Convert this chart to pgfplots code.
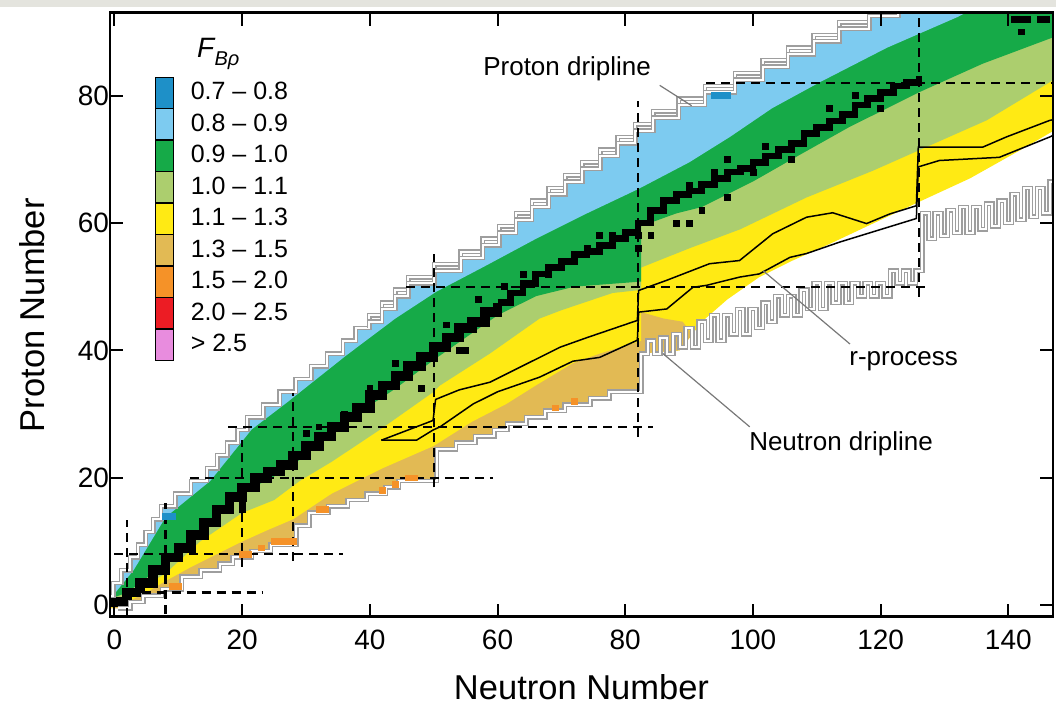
\documentclass[border=0pt]{standalone}
\usepackage{fontspec}
\setmainfont{Liberation Sans}
\usepackage{pgfplots}
\pgfplotsset{compat=1.18}
\definecolor{cDB}{RGB}{30,144,200}
\definecolor{cLB}{RGB}{125,203,240}
\definecolor{cG}{RGB}{22,170,72}
\definecolor{cLG}{RGB}{172,206,110}
\definecolor{cY}{RGB}{255,234,20}
\definecolor{cT}{RGB}{226,186,84}
\definecolor{cO}{RGB}{245,146,40}
\definecolor{cR}{RGB}{236,28,36}
\definecolor{cP}{RGB}{232,140,222}
\definecolor{cGr}{RGB}{158,158,158}
\definecolor{cLead}{RGB}{120,120,120}
\definecolor{topgray}{RGB}{228,228,222}
\begin{document}
\begin{tikzpicture}
\begin{axis}[
 name=ax, scale only axis, width=471.5pt, height=302pt,
 xmin=-0.7, xmax=147, ymin=-1.8, ymax=93,
 axis on top=true,
 xtick={0,20,...,140}, ytick={0,20,...,80},
 tick align=inside, major tick length=6.5pt,
 tick style={black, line width=1pt},
 axis line style={black, line width=1.25pt},
 tick label style={font=\fontsize{14}{14}\selectfont},
 /pgf/number format/assume math mode=true,
 xticklabel style={yshift=-3pt},
 yticklabel style={xshift=3pt},
 xlabel={Neutron Number}, ylabel={Proton Number},
 label style={font=\fontsize{17.25}{18}\selectfont},
 xlabel style={at={(axis description cs:0.5,-0.1160)}, anchor=center},
 ylabel style={at={(axis description cs:-0.0827,0.499)}, anchor=center},
 legend image code/.code={\fill[#1] (0pt,-7.675pt) rectangle (9pt,7.675pt);},
 legend cell align=left,
 legend style={at={(axis description cs:0.0477,0.8937)}, anchor=north west, draw=none, fill=none,
   inner sep=0pt, outer sep=0pt, row sep=0pt, font=\fontsize{12.5}{13}\selectfont,
   nodes={inner sep=0pt, outer sep=0pt},
   /tikz/every odd column/.append style={column sep=8.5pt}},
 cell/.style={forget plot, only marks, mark=square*, mark size=1.45pt, mark options={line width=0.3pt}},
 drip/.style={forget plot, cGr, line width=0.7pt, double=white, double distance=1pt},
]
% ---- legend entries
\addlegendimage{fill=cDB}\addlegendentry{0.7 – 0.8}
\addlegendimage{fill=cLB}\addlegendentry{0.8 – 0.9}
\addlegendimage{fill=cG}\addlegendentry{0.9 – 1.0}
\addlegendimage{fill=cLG}\addlegendentry{1.0 – 1.1}
\addlegendimage{fill=cY}\addlegendentry{1.1 – 1.3}
\addlegendimage{fill=cT}\addlegendentry{1.3 – 1.5}
\addlegendimage{fill=cO}\addlegendentry{1.5 – 2.0}
\addlegendimage{fill=cR}\addlegendentry{2.0 – 2.5}
\addlegendimage{fill=cP}\addlegendentry{> 2.5}

% ---- tan layer (N <= 82), lower edge = neutron dripline staircase
\addplot[forget plot, fill=cT, draw=none, const plot] coordinates {
(-2,-0.5) (2.5,0.5) (4.5,1.5) (7.5,2.5) (10.5,4.5) (13.5,5.5) (16.5,6.5) (18.5,7.5) (21.5,8.5) (24.5,9.5)
(28.5,12.5) (30.5,14.5) (33.5,15.5) (36.5,16.5) (39.5,17.5) (42.5,18.5) (44.5,19.5) (50.5,24.5) (53.5,25.5)
(56.5,26.5) (59.5,27.5) (61.5,28.5) (64.5,29.5) (67.5,30.5) (70.5,31.5) (74.5,32.5) (77.5,33.5) (82.5,39.5)
(82.5,100) (-2,100)} -- cycle;
% ---- yellow layer (N > 82)
\addplot[forget plot, fill=cY, draw=none] coordinates {
(82.5,39.5) (88.5,40) (90.5,42.5) (92,44.5) (96,48) (101,51.5) (106,54) (112,56.7) (119,60) (126,63.3)
(134,67) (142,71.5) (148,75) (148,100) (82.5,100)} -- cycle;
\addplot[forget plot, fill=cT, draw=none] coordinates {
(82.5,39.5) (88.5,40) (90.5,42.5) (89,44.5) (86,45) (82.5,46)} -- cycle;
% ---- yellow layer (N <= 82)
\addplot[forget plot, fill=cY, draw=none] coordinates {
(-2,-1) (3,1) (5,2) (8,3.8) (12,6) (16,8) (20,10) (24,11.8) (28,13.5) (34,17.5) (42,21.5) (50,25)
(56,28.8) (61.4,31.6) (66,34.5) (71.8,38) (76,39.5) (82.5,41.5) (82.5,100) (-2,100)} -- cycle;
% ---- light green layer
\addplot[forget plot, fill=cLG, draw=none] coordinates {
(-2,-0.5) (0,0.5) (3,2) (8,5) (13.4,10) (20,14.5) (25,16.5) (29,19.5) (34,22.5) (41.5,27.5) (50,33.5)
(51,34.5) (58.8,39.5) (66.6,45) (70,46.3) (78,49) (82.5,49.5) (82.5,53) (90,56) (98,59) (108.4,64)
(118.8,68.2) (126,71.4) (136.6,76.1) (148,83) (148,100) (-2,100)} -- cycle;
% ---- green layer
\addplot[forget plot, fill=cG, draw=none] coordinates {
(-2,0.5) (2,2) (6.6,5.5) (10.2,8.5) (13.4,11.5) (17,15) (20.2,18) (23.8,19.5) (28,22) (31.6,25)
(35.8,28) (39.5,31) (44,34) (50,38.5) (55,42) (60,45.5) (66,48.5) (72,50) (82.5,50.8) (82.5,59.5)
(88,61.5) (92,62.5) (100,66.5) (107,70.5) (115,75) (126,80.5) (136,85) (148,89.5) (148,100) (-2,100)} -- cycle;
% ---- light blue layer
\addplot[forget plot, fill=cLB, draw=none] coordinates {
(-2,0.6) (0,1.8) (3,5.5) (8,13.8) (15,19.5) (21.5,27.6) (27,31.8) (36.3,39.2) (44,45) (50.4,49.2) (58,53.2)
(66,57.5) (74,61.5) (82,65.3) (90,69.5) (96.4,73.5) (103,78) (110.5,82.1) (121,87.5) (132,92.3)
(145,99) (145,100) (-2,100)} -- cycle;
% ---- white beyond proton dripline (inner edge for Z >= 44 leaves outlined white bars)
\addplot[forget plot, fill=white, draw=none, const plot mark right] coordinates {
(-1,-0.5) (-0.2,1.5) (1.1,3.5) (2.5,5.5) (3.7,7.5) (4.9,9.5) (6.1,11.5) (7.3,13.5) (9.5,15.5) (12,17.5)
(14.5,19.5) (16.1,21.5) (17.7,23.5) (19.3,25.5) (20.8,27.5) (23.3,29.5) (25.9,31.5) (28.4,33.5) (30.8,35.5)
(33.3,37.5) (35.8,39.5) (37.8,41.5) (39.9,43.5) (41.9,44.5) (44,46.5) (46,48.5) (50.1,50.5) (54.2,52.5)
(57.7,54.5) (60.3,56.5) (62.9,58.5) (65.4,60.5) (68,62.5) (70.6,64.5) (73.3,66.5) (76.1,68.5) (78.8,70.5)
(81.6,72.5) (84.4,74.5) (88.4,76.5) (92.5,78.5) (97.2,80.5) (101.5,82.5) (105.5,84.5) (109.5,86.5)
(113.5,88.5) (118.2,90.5) (122.8,92.5) (127.5,94.5) (127.5,100) (-5,100) (-5,-0.5)} -- cycle;
% ---- orange and dark blue cells
\addplot[cell, color=cO] coordinates {
(9,3) (10,3) (20,8) (21,8) (23,9) (25,10) (26,10) (27,10) (28,10) (32,15) (33,15) (42,18) (44,19) (46,20) (47,20) (69,31) (72,32)};
\addplot[cell, color=cDB] coordinates {(94,80) (95,80) (96,80) (8,14) (9,14)};
% ---- valley of stability
\addplot[forget plot, black, line width=4.8pt, const plot] coordinates {
(-0.5,0.5) (2,2) (4,3.5) (6,5.5) (8,7.5) (10,9) (12,11) (14,13) (16,15) (18,17) (20,18.5) (22,20) (24,21)
(26,22) (28,23.5) (30,25) (32,26.5) (34,28) (36,29.5) (38,31) (40,33) (42,34.5) (44,36) (46,37.5) (48,39)
(50,40.5) (52,42) (54,43.5) (56,44.5) (58,46) (60,47.5)};
\addplot[forget plot, black, line width=3.4pt, const plot] coordinates {
(60,47.5) (62,49) (64,50.5) (66,52) (68,53) (70,54) (72,55) (74,55.5) (76,56.5) (78,57.5) (80,58.5) (82,60)
(84,62) (86,63.5) (88,64.5) (90,65) (92,66) (94,67) (96,68) (98,68.5) (100,69.5) (102,70.5) (104,71.5)
(106,72.5) (108,74) (110,75) (112,76) (114,77) (116,78.5) (118,79.5) (120,80.5) (122,81.5) (124,82) (126,83)};
\addplot[cell, color=black] coordinates {
(46,37) (48,34) (40,34) (52,44) (54,40) (55,40) (57,48) (61,50) (68,52) (70,54) (72,54) (74,56) (78,58)
(80,58) (84,58) (88,60) (90,60) (90,66) (92,66) (94,68) (96,70) (92,62) (96,64) (102,72) (106,70)
(112,78) (116,80) (120,78) (141,92) (142,92) (143,92) (145,92) (146,92) (142,90) (36,30) (32,28) (82,56) (82,58)
(20,16) (20,15) (30,27) (44,38) (64,52) (76,58) (86,62) (100,68)};
% ---- proton dripline (gray): outer edge and inner edge of the outlined bars
\addplot[drip, const plot mark right] coordinates {
(-1,-0.5) (-0.2,1.5) (1.1,3.5) (2.5,5.5) (3.7,7.5) (4.9,9.5) (6.1,11.5) (7.3,13.5) (9.5,15.5) (12,17.5)
(14.5,19.5) (16.1,21.5) (17.7,23.5) (19.3,25.5) (20.8,27.5) (23.3,29.5) (25.9,31.5) (28.4,33.5) (30.8,35.5)
(33.3,37.5) (35.8,39.5) (37.8,41.5) (39.9,43.5) (41.9,45.5) (44,47.5) (46,49.5) (50.1,51.5) (54.2,53.5)
(57.7,55.5) (60.3,57.5) (62.9,59.5) (65.4,61.5) (68,63.5) (70.6,65.5) (73.3,67.5) (76.1,69.5) (78.8,71.5)
(81.6,73.5) (84.4,75.5) (88.4,77.5) (92.5,79.5) (97.2,81.5) (101.5,83.5) (105.5,85.5) (109.5,87.5)
(113.5,89.5) (118.2,91.5) (122.8,93.5)};
\addplot[drip, const plot mark right] coordinates {
(39.9,43.5) (41.9,44.5) (44,46.5) (46,48.5) (50.1,50.5) (54.2,52.5)
(57.7,54.5) (60.3,56.5) (62.9,58.5) (65.4,60.5) (68,62.5) (70.6,64.5) (73.3,66.5) (76.1,68.5) (78.8,70.5)
(81.6,72.5) (84.4,74.5) (88.4,76.5) (92.5,78.5) (97.2,80.5) (101.5,82.5) (105.5,84.5) (109.5,86.5)
(113.5,88.5) (118.2,90.5) (122.8,92.5) (127.5,94.5)};
% ---- neutron dripline (gray)
\addplot[drip, const plot] coordinates {
(0.5,-0.5) (2.5,0.5) (4.5,1.5) (7.5,2.5) (10.5,4.5) (13.5,5.5) (16.5,6.5) (18.5,7.5) (21.5,8.5) (24.5,9.5)
(28.5,12.5) (30.5,14.5) (33.5,15.5) (36.5,16.5) (39.5,17.5) (42.5,18.5) (44.5,19.5) (50.5,24.5) (53.5,25.5)
(56.5,26.5) (59.5,27.5) (61.5,28.5) (64.5,29.5) (67.5,30.5) (70.5,31.5) (74.5,32.5) (77.5,33.5)
(82.5,39.5) (83.5,41.5) (84.5,39.5) (85.5,42) (86.5,39.5) (87.5,42.5) (88.5,40.5) (89.5,43.5) (90.5,40.5)
(91.5,44.5) (92.5,41.5) (93.5,45.5) (94.5,41.5) (95.5,45.5) (96.5,42.5) (97.5,46.5) (98.5,42.5) (99.5,46.5)
(100.5,43.5) (101.5,47.5) (102.5,44.5) (103.5,48.5) (104.5,45.5) (105.5,48.5) (106.5,45.5) (107.5,49.5)
(108.5,46.5) (109.5,50.5) (110.5,46.5) (111.5,50.5) (112.5,47.5) (113.5,50.5) (114.5,47.5) (115.5,50.5)
(116.5,48.5) (117.5,50.5) (118.5,48.5) (119.5,50.5) (120.5,48.5) (121.5,52.5) (122.5,50.5) (123.5,52.5)
(124.5,50.5) (125.5,52.5) (126.5,61.5) (127.5,57.5) (128.5,61.5) (129.5,58) (130.5,62) (131.5,58.5)
(132.5,62.5) (133.5,58.5) (134.5,62.5) (135.5,59) (136.5,63) (137.5,59.5) (138.5,63.5) (139.5,60)
(140.5,64.5) (141.5,60.5) (142.5,65.5) (143.5,61) (144.5,65.5) (145.5,61.5) (146.5,66.5) (147.5,62)};
% ---- magic numbers (dashed)
\pgfplotsset{magic/.style={forget plot, black, line width=1.15pt, dash pattern=on 4.5pt off 3pt}}
\addplot[magic] coordinates {(1.9,2) (23.2,2)};
\addplot[magic] coordinates {(0,8) (35.8,8)};
\addplot[magic] coordinates {(11.8,20) (59.3,20)};
\addplot[magic] coordinates {(17.8,28) (84.3,28)};
\addplot[magic] coordinates {(45.7,50) (127.7,50)};
\addplot[magic] coordinates {(92.7,82) (147,82)};
\addplot[magic] coordinates {(2,-1.8) (2,13.3)};
\addplot[magic] coordinates {(8,-1.3) (8,16)};
\addplot[magic] coordinates {(20,6) (20,26)};
\addplot[magic] coordinates {(28,7) (28,33.3)};
\addplot[magic] coordinates {(50,18.5) (50,55.2)};
\addplot[magic] coordinates {(82,26.4) (82,79.2)};
\addplot[magic] coordinates {(126,48.4) (126,93)};
% ---- r-process path
\addplot[forget plot, black, line width=0.75pt] coordinates {
(41.8,25.9) (49.9,29) (50.3,32.3) (54,33.8) (58.8,35) (66.6,38.9) (69.8,40.5) (74,42) (81.9,44.7) (82.1,49.4)
(86.5,51) (93.2,53.6) (97.9,54.1) (103.1,58.3) (108.4,60.9) (112.5,61.6) (117.8,59.9) (121.4,61.4) (125.6,62.7)
(125.9,71.9) (136,71.9) (139.7,73.5) (146.5,76.1) (147.5,76.3)};
\addplot[forget plot, black, line width=0.75pt] coordinates {
(41.8,25.9) (47.3,25.9) (49.9,27.5) (51,28) (56.2,31.6) (60,33.5) (66.6,35.8) (71.8,38.3) (76,38.9) (81.9,41.6)
(82.1,46) (86.5,46.5) (90.6,49.9) (92.7,50.2) (97.9,51.5) (101,52) (105.8,54.6) (108.4,55.2) (113.6,57)
(125.6,60.7) (125.9,68.8) (129.2,69.8) (138.6,70.3) (146.5,73.5) (147.5,74)};
% ---- leaders
\addplot[forget plot, cLead, line width=0.6pt] coordinates {(85.4,81.6) (90.4,78.4)};
\addplot[forget plot, cLead, line width=0.6pt] coordinates {(101.6,52.5) (115.2,41)};
\addplot[forget plot, cLead, line width=0.6pt] coordinates {(85.9,39.5) (99.5,28)};
\node[font=\fontsize{13}{14}\selectfont] at (axis cs:70.9,84.2) {Proton dripline};
\node[font=\fontsize{13}{14}\selectfont] at (axis cs:123.6,38.3) {r-process};
\node[font=\fontsize{13}{14}\selectfont] at (axis cs:113.8,25.4) {Neutron dripline};
\node[anchor=base west, inner sep=0pt] at (axis description cs:0.0919,0.9258)
  {\fontsize{14}{15}\selectfont\itshape F\kern0.2pt\raisebox{-4pt}{\fontsize{10}{11}\selectfont Bρ}};
\end{axis}
\pgfresetboundingbox
\path[use as bounding box] ([xshift=-55pt,yshift=-43.75pt]ax.south west) rectangle ([xshift=1.5pt,yshift=6.35pt]ax.north east);
\fill[topgray] ([xshift=-55pt,yshift=2.85pt]ax.north west) rectangle ([xshift=1.5pt,yshift=6.35pt]ax.north east);
\end{tikzpicture}
\end{document}
